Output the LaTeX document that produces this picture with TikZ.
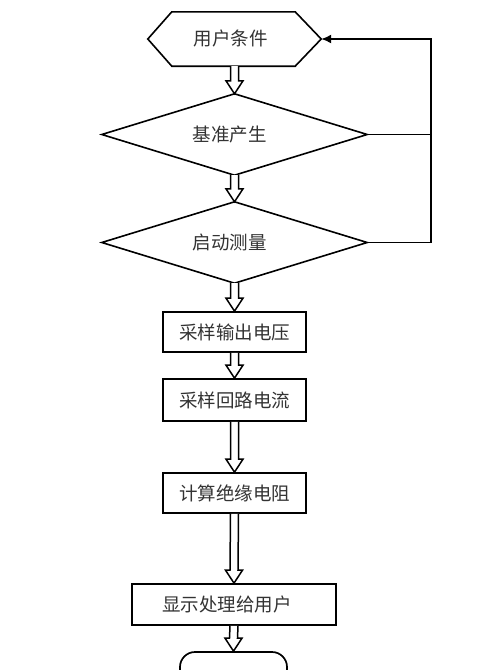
\documentclass[tikz,border=0pt]{standalone}
\usepackage{fontspec}
\setmainfont{Noto Sans CJK SC}
\usetikzlibrary{calc,arrows.meta}
\newcommand\hollowarr[2]{%
  \draw[line width=1.5pt, fill=white] ($(#1.south)+(-4,0)$) -- ($(#2.north)+(-4,13)$) -- ($(#2.north)+(-8.5,13)$) -- (#2.north) -- ($(#2.north)+(8.5,13)$) -- ($(#2.north)+(4,13)$) -- ($(#1.south)+(4,0)$);}
\newcommand\diapath[1]{%
  \draw[line width=1.6pt] (#1.north) -- (#1.east) -- (#1.south) -- (#1.west) -- cycle;}
\tikzset{
  lbl/.style={font=\fontsize{18.5}{22}\selectfont, text=black!80},
  boxnode/.style={draw, line width=1.7pt, lbl, minimum height=40, inner sep=0},
  dia/.style={lbl, minimum width=265, minimum height=81, inner sep=0},
  flow/.style={line width=1.6pt}
}
\begin{document}
\begin{tikzpicture}[x=1pt,y=1pt]
\useasboundingbox (0,0) rectangle (480,-670);
\clip (0,0) rectangle (480,-670);
\fill[white] (0,0) rectangle (480,-670);
% start hexagon
\node[lbl, minimum width=173, minimum height=54, inner sep=0] (start) at (234.5,-39) {\raisebox{2pt}{用户条件}\hspace*{8pt}};
\draw[line width=1.6pt] (start.west) -- ($(start.north west)+(24,0)$) -- ($(start.north east)+(-26,0)$) -- (start.east) -- ($(start.south east)+(-26,0)$) -- ($(start.south west)+(24,0)$) -- cycle;
% diamonds
\node[dia] (d1) at (234.5,-134.5) {基准产生\hspace*{10pt}};
\diapath{d1}
\node[dia] (d2) at (234.5,-242.5) {启动测量\hspace*{10pt}};
\diapath{d2}
% boxes
\node[boxnode, minimum width=143] (b1) at (234.5,-332) {采样输出电压};
\node[boxnode, minimum width=143, minimum height=42] (b2) at (234.5,-400) {采样回路电流};
\node[boxnode, minimum width=143] (b3) at (234.5,-493) {计算绝缘电阻};
\node[boxnode, minimum width=204, minimum height=41] (b4) at (234,-604.5) {显示处理给用户\hspace*{14pt}};
\node[draw, line width=1.7pt, rounded corners=15, minimum width=107, minimum height=40] (end) at (233.5,-672) {};
% hollow arrows
\hollowarr{start}{d1}
\hollowarr{d1}{d2}
\hollowarr{d2}{b1}
\hollowarr{b1}{b2}
\hollowarr{b2}{b3}
\hollowarr{b3}{b4}
\hollowarr{b4}{end}
% feedback
\coordinate (fb) at (431,-242.5);
\draw[flow, -{Latex[length=10pt,width=9pt]}] (d2.east) -- (fb) |- (start.east);
\draw[flow] (d1.east) -- (d1.east -| fb);
\end{tikzpicture}
\end{document}
